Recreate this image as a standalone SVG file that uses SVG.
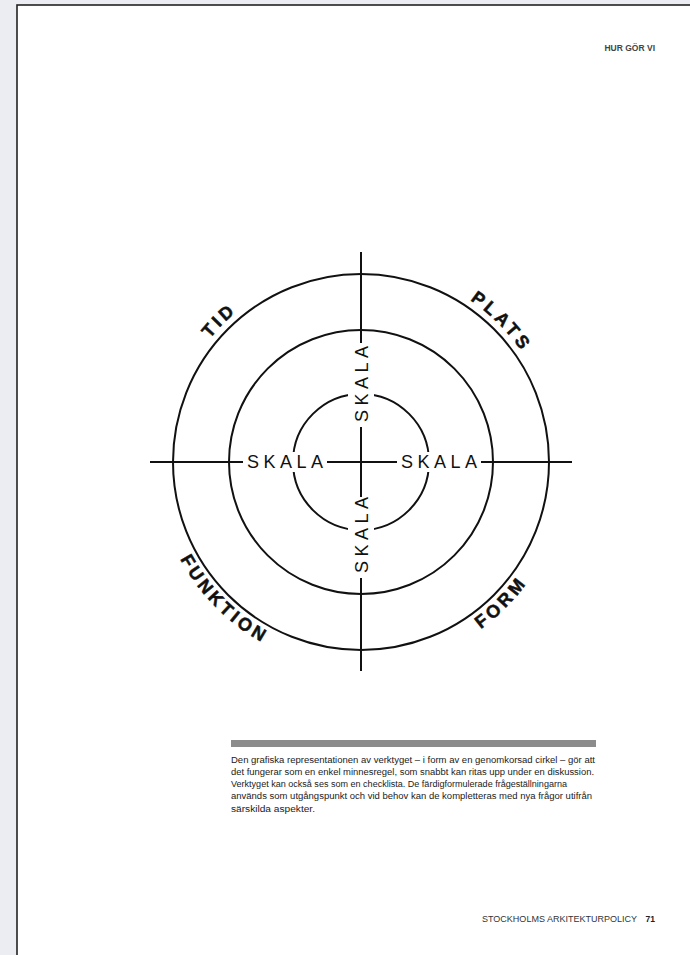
<svg xmlns="http://www.w3.org/2000/svg" width="690" height="955" viewBox="0 0 690 955">
  <style>
    .ln { stroke: #111; stroke-width: 2; fill: none; }
    .mask { fill: #fff; stroke: none; }
    .skala { font-family: "Liberation Sans", Arial, sans-serif; font-size: 18px; letter-spacing: 4.5px; fill: #111; }
    .aspect { font-family: "Liberation Sans", Arial, sans-serif; font-size: 18px; font-weight: bold; letter-spacing: 3.5px; fill: #111; stroke: #111; stroke-width: 0.5; }
    .cap { font-family: "Liberation Sans", Arial, sans-serif; font-size: 8.5px; fill: #1a1a1a; }
    .hdr { font-family: "Liberation Sans", Arial, sans-serif; font-size: 8.5px; font-weight: bold; fill: #444; }
  </style>
  <defs>
    <path id="arcTid" d="M172.6,411.5 A195,195 0 0 1 310.5,273.6"/>
    <path id="arcPlats" d="M411.5,273.6 A195,195 0 0 1 549.4,411.5"/>
    <path id="arcFunktion" d="M163,515.1 A206,206 0 0 0 307.9,661"/>
    <path id="arcForm" d="M414.1,661 A206,206 0 0 0 559,515.1"/>
  </defs>

  <rect x="0" y="0" width="690" height="955" fill="#ecedf2"/>
  <rect x="17" y="5" width="690" height="960" fill="#fff" stroke="#222" stroke-width="1.6"/>

  <g id="header">
    <text class="hdr" x="655" y="51" text-anchor="end">HUR GÖR VI</text>
  </g>

  <g id="rings">
    <circle class="ln" cx="361" cy="462" r="188"/>
    <circle class="ln" cx="361" cy="462" r="132"/>
    <circle class="ln" cx="361" cy="462" r="68"/>
  </g>

  <g id="connectors">
    <line class="ln" x1="361" y1="252" x2="361" y2="671"/>
    <line class="ln" x1="150" y1="462" x2="572" y2="462"/>
  </g>

  <g id="skala-left">
    <rect class="mask" x="243" y="452" width="84" height="20"/>
    <text class="skala" x="247" y="468">SKALA</text>
  </g>
  <g id="skala-right">
    <rect class="mask" x="397" y="452" width="84" height="20"/>
    <text class="skala" x="401" y="468">SKALA</text>
  </g>
  <g id="skala-top">
    <rect class="mask" x="348" y="343" width="26" height="84"/>
    <text class="skala" transform="translate(367.5,422) rotate(-90)" x="0" y="0">SKALA</text>
  </g>
  <g id="skala-bottom">
    <rect class="mask" x="348" y="497" width="26" height="81"/>
    <text class="skala" transform="translate(367.5,573) rotate(-90)" x="0" y="0">SKALA</text>
  </g>

  <g id="label-tid">
    <text class="aspect"><textPath href="#arcTid" startOffset="50%" text-anchor="middle">TID</textPath></text>
  </g>
  <g id="label-plats">
    <text class="aspect"><textPath href="#arcPlats" startOffset="50%" text-anchor="middle">PLATS</textPath></text>
  </g>
  <g id="label-funktion">
    <text class="aspect"><textPath href="#arcFunktion" startOffset="50%" text-anchor="middle">FUNKTION</textPath></text>
  </g>
  <g id="label-form">
    <text class="aspect"><textPath href="#arcForm" startOffset="50%" text-anchor="middle">FORM</textPath></text>
  </g>

  <g id="caption">
    <rect x="231" y="740" width="365" height="7" fill="#8c8c8c"/>
    <text class="cap" x="231" y="763" textLength="364" lengthAdjust="spacingAndGlyphs">Den grafiska representationen av verktyget – i form av en genomkorsad cirkel – gör att</text>
    <text class="cap" x="231" y="775" textLength="363" lengthAdjust="spacingAndGlyphs">det fungerar som en enkel minnesregel, som snabbt kan ritas upp under en diskussion.</text>
    <text class="cap" x="231" y="787" textLength="336" lengthAdjust="spacingAndGlyphs">Verktyget kan också ses som en checklista. De färdigformulerade frågeställningarna</text>
    <text class="cap" x="231" y="799" textLength="361" lengthAdjust="spacingAndGlyphs">används som utgångspunkt och vid behov kan de kompletteras med nya frågor utifrån</text>
    <text class="cap" x="231" y="812" textLength="84" lengthAdjust="spacingAndGlyphs">särskilda aspekter.</text>
  </g>

  <g id="footer">
    <text class="hdr" x="482" y="922" textLength="155" lengthAdjust="spacingAndGlyphs" style="font-weight:normal;fill:#333">STOCKHOLMS ARKITEKTURPOLICY</text>
    <text class="hdr" x="655" y="922" text-anchor="end" style="fill:#222">71</text>
  </g>
</svg>
